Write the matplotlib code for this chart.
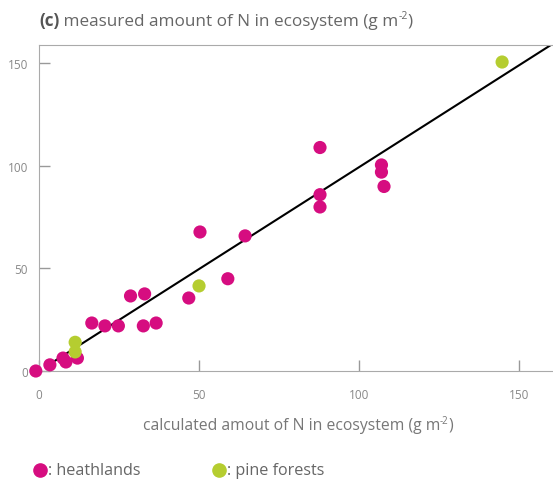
import matplotlib.pyplot as plt

# measured vs calculated amount of N (g m-2)
heath_x = [-1, 3.4, 7.5, 8.4, 12, 16.5, 20.6, 24.8, 28.6, 33, 32.6, 36.6, 46.8, 59,
           50.3, 64.4, 87.8, 87.8, 87.8, 107, 107, 107.8]
heath_y = [0, 3, 6.3, 4.4, 6.3, 23.4, 22, 22, 36.6, 37.6, 22, 23.4, 35.6, 45,
           67.8, 65.9, 109, 86, 80, 100.5, 97, 90]
pine_x = [11.3, 11.3, 50, 144.7]
pine_y = [14, 9.3, 41.5, 150.7]
fit_x = [3.4, 170]
fit_y = [3.4, 169]

ticks = [0, 50, 100, 150]

plt.rcParams['font.family'] = ['Open Sans', 'DejaVu Sans']

magenta = '#d60d80'
green = '#b5cd30'
grey = '#999999'

fig = plt.figure(figsize=(5.53, 4.81), dpi=100)
ax = fig.add_axes([39/553, 1 - 372/481, 1 - 39/553, (372 - 46)/481])

ax.plot(fit_x, fit_y, color='black', linewidth=1.5, zorder=2)
ax.scatter(heath_x, heath_y, s=90, color=magenta, edgecolors='none', zorder=3, clip_on=False)
ax.scatter(pine_x, pine_y, s=90, color=green, edgecolors='none', zorder=3, clip_on=False)

ax.set_xlim(0, 160.6)
ax.set_ylim(0, 159)
ax.set_xticks(ticks)
ax.set_yticks(ticks)
ax.tick_params(direction='in', length=8, width=1, color=grey, labelcolor='#888888',
               labelsize=8.5)
ax.tick_params(axis='x', pad=12)
ax.tick_params(axis='y', pad=8)
for side in ['left', 'top', 'bottom']:
    ax.spines[side].set_color('#aaaaaa')
ax.spines['right'].set_visible(False)

renderer = fig.canvas.get_renderer()


def chain(x, y, parts):
    # parts: (text, size, weight, color, raise in px)
    for s, size, weight, color, dy in parts:
        t = fig.text(x / 553, 1 - (y - dy) / 481, s, fontsize=size, fontweight=weight,
                     color=color, va='baseline')
        x = t.get_window_extent(renderer).x1
    return x


def chain_width(parts):
    x = 0
    for s, size, weight, color, dy in parts:
        t = fig.text(0, 0, s, fontsize=size, fontweight=weight)
        x += t.get_window_extent(renderer).width
        t.remove()
    return x


title_parts = [('(c)', 12.3, 'bold', '#555555', 0),
               (' measured amount of N in ecosystem (g m', 12.3, 'normal', '#666666', 0),
               ('-2', 7.5, 'normal', '#666666', 7),
               (')', 12.3, 'normal', '#666666', 0)]
chain(39, 26, title_parts)

xlabel_parts = [('calculated amout of N in ecosystem (g m', 11.3, 'normal', '#777777', 0),
                ('-2', 7, 'normal', '#777777', 6),
                (')', 11.3, 'normal', '#777777', 0)]
w = chain_width(xlabel_parts)
chain(298 - w / 2, 430, xlabel_parts)

# legend
fig.lines.append(plt.Line2D([40/553], [1 - 471/481], marker='o', markersize=9.5, color=magenta,
                            linestyle='none', transform=fig.transFigure))
fig.text(48/553, 1 - 471/481, ': heathlands', fontsize=11.6, color='#666666', va='center')
fig.lines.append(plt.Line2D([219/553], [1 - 471/481], marker='o', markersize=9.5, color=green,
                            linestyle='none', transform=fig.transFigure))
fig.text(227/553, 1 - 471/481, ': pine forests', fontsize=11.6, color='#666666', va='center')

fig.savefig('out.png', dpi=100)
